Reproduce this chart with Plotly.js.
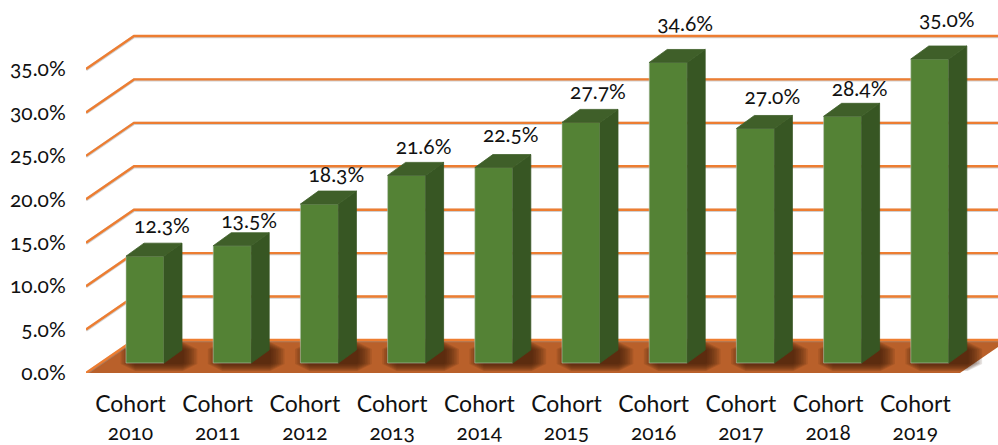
<!DOCTYPE html>
<html><head><meta charset="utf-8">
<script src="https://cdn.plot.ly/plotly-3.0.1.min.js"></script>
<style>
html,body{margin:0;padding:0;background:#fff}
svg text{font-variant-numeric:oldstyle-nums;font-feature-settings:"onum" 1}
</style></head><body><div id="c" style="width:998px;height:445px"></div>
<script>
const categories=["Cohort","Cohort","Cohort","Cohort","Cohort","Cohort","Cohort","Cohort","Cohort","Cohort"];
const years=["2010","2011","2012","2013","2014","2015","2016","2017","2018","2019"];
const values=[12.3,13.5,18.3,21.6,22.5,27.7,34.6,27.0,28.4,35.0];
const yTicks=[0,5,10,15,20,25,30,35];

// geometry helpers, px → axis units
const PXX=87.2,PXY=8.686;
const W=998,H=445,AX=86,AY=373;
const X0=-(130.5-AX)/PXX,X1=(W-130.5)/PXX,YMAX=AY/PXY;
const px=v=>v/PXX,py=v=>v/PXY;
const off=px(-4.5),bw=px(38),base=py(10);
const bdx=px(18),bdy=py(13),wdx=px(48),wdy=py(33);
const xEnd=X0+px(874);
const lift=[28,23,27,27,31,29,37,30,26,37];
const idx=values.map((_,i)=>i);
const FONT='Lato, "Open Sans", sans-serif';

const shapes=[];
// floor
shapes.push({type:'path',layer:'below',line:{width:0},fillcolor:'#B9602A',
 path:`M${X0},0 L${X0+wdx},${wdy} L${xEnd+wdx},${wdy} L${xEnd},0 Z`});
// floor shadows around bar feet
const LAYERS=9;
idx.forEach(i=>{
 const l=i+off,r=i+off+bw+bdx,b=base,t=base+bdy;
 for(let k=LAYERS;k>=1;k--){
  const ex=px(k*1.7),ey=py(k*0.9),cx=px(k*1.6),cy=py(k*0.8);
  const L=l-ex+px(10),R=r+ex,B=b-ey,T=t+ey;
  shapes.push({type:'path',layer:'below',line:{width:0},fillcolor:'#3a1a06',opacity:0.125,
   path:`M${L+cx},${B} L${R-cx},${B} L${R},${B+cy} L${R},${T-cy} L${R-cx},${T} L${L+cx},${T} L${L},${T-cy} L${L},${B+cy} Z`});
 }
});
// wall lines
yTicks.forEach(v=>{
 const path=`M${X0},${v} L${X0+wdx},${v+wdy} L${X1+0.2},${v+wdy}`;
 shapes.push({type:'path',layer:'below',line:{width:3.2,color:'rgba(150,150,150,0.45)'},path:`M${X0},${v-py(.6)} L${X0+wdx},${v+wdy-py(.6)} L${X1+0.2},${v+wdy-py(.6)}`});
 shapes.push({type:'path',layer:'below',line:{width:2.4,color:'#ED7D31'},path});
});

const nested=(fn)=>{const xs=[],ys=[];idx.forEach(i=>{fn(i).forEach(p=>{xs.push(p[0]);ys.push(p[1])});xs.push(null);ys.push(null)});return{xs,ys}};
const sideFace=nested(i=>{const r=i+off+bw,v=values[i]+base;return[[r,base],[r+bdx,base+bdy],[r+bdx,v+bdy],[r,v],[r,base]]});
const topFace=nested(i=>{const l=i+off,r=l+bw,v=values[i]+base;return[[l,v],[r,v],[r+bdx,v+bdy],[l+bdx,v+bdy],[l,v]]});

const traces=[
 {type:'bar',x:idx,y:values,base:base,width:bw,offset:off,
  marker:{color:'#548235',line:{color:'rgba(190,200,185,0.55)',width:1}},hoverinfo:'skip',xaxis:'x',yaxis:'y'},
 {type:'scatter',mode:'lines',x:sideFace.xs,y:sideFace.ys,fill:'toself',fillcolor:'#375623',line:{color:'#375623',width:0.8},hoverinfo:'skip',xaxis:'x',yaxis:'y'},
 {type:'scatter',mode:'lines',x:topFace.xs,y:topFace.ys,fill:'toself',fillcolor:'#3F5F29',line:{color:'#3F5F29',width:0.8},hoverinfo:'skip',xaxis:'x',yaxis:'y'},
 {type:'scatter',mode:'text',x:idx.map(i=>i+off+bw/2+px(17)),y:values.map((v,i)=>v+base+py(lift[i])),
  text:values.map(v=>v.toFixed(1)+'%'),textposition:'middle center',textfont:{family:FONT,size:21,color:'#111'},cliponaxis:false,hoverinfo:'skip',xaxis:'x',yaxis:'y'},
 {type:'scatter',mode:'markers',x:idx,y:values,marker:{opacity:0,size:1},hoverinfo:'skip',xaxis:'x2',yaxis:'y'}
];
const axBase={range:[X0,X1],tickmode:'array',tickvals:idx,showgrid:false,zeroline:false,showline:false,
 ticks:'outside',tickcolor:'rgba(0,0,0,0)',tickwidth:0,tickangle:0,fixedrange:true};
const layout={width:W,height:H,margin:{l:AX,r:0,t:0,b:H-AY,pad:0},showlegend:false,paper_bgcolor:'#fff',plot_bgcolor:'#fff',
 xaxis:Object.assign({},axBase,{ticktext:categories,ticklen:10,tickfont:{family:FONT,size:23,color:'#111'}}),
 xaxis2:Object.assign({},axBase,{ticktext:years,ticklen:41,overlaying:'x',side:'bottom',anchor:'y',tickfont:{family:FONT,size:21,color:'#111'}}),
 yaxis:{range:[0,YMAX],tickmode:'array',tickvals:yTicks,ticktext:yTicks.map(v=>v.toFixed(1)+'%'),showgrid:false,zeroline:false,showline:false,
  ticks:'outside',ticklen:15,tickcolor:'rgba(0,0,0,0)',tickwidth:0,tickfont:{family:FONT,size:21,color:'#111'},fixedrange:true},
 shapes};
Plotly.newPlot('c',traces,layout,{displayModeBar:false,staticPlot:true});
</script></body></html>
